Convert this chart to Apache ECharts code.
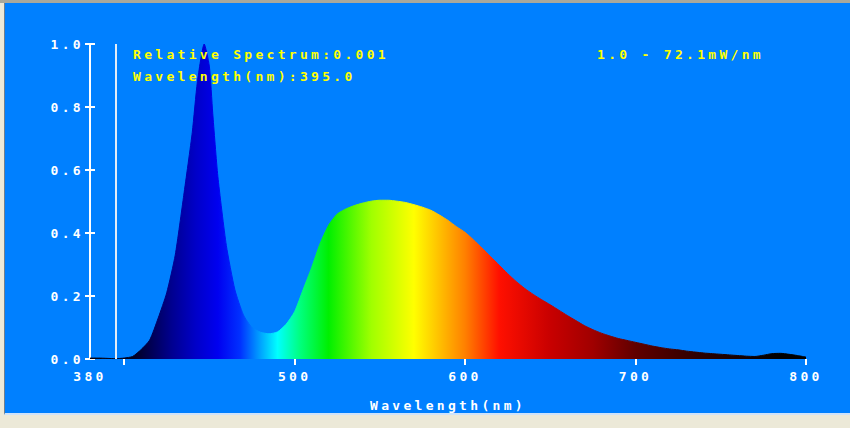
<!DOCTYPE html>
<html>
<head>
<meta charset="utf-8">
<script src="https://cdn.jsdelivr.net/npm/echarts@6/dist/echarts.min.js"></script>
<style>
  html, body { margin: 0; padding: 0; background: #ECE9D8; }
  body { width: 850px; height: 428px; position: relative; overflow: hidden; }
  .frame { position: absolute; left: 0; top: 0; width: 850px; height: 3px; background: #A8A89C; }
  #chart { position: absolute; left: 4px; top: 3px; width: 846px; height: 410px; background: #0080FF;
           border-left: 1px solid #6E7F8E; border-bottom: 2px solid #CFE3FA; }
  #chart text { letter-spacing: 3.3px; }
</style>
</head>
<body>
<div class="frame"></div>
<div id="chart"></div>
<script>
// wavelength (nm) and relative spectrum
const wavelengths = [380, 385, 390, 395, 400, 405, 410, 415, 420, 425, 430, 435, 440, 443, 447, 450, 452, 455, 460, 465,
  470, 475, 480, 485, 490, 495, 500, 505, 510, 515, 520, 525, 530, 535, 540, 545, 550, 555, 560, 565,
  570, 575, 580, 585, 590, 595, 600, 605, 610, 615, 620, 625, 630, 635, 640, 645, 650, 655, 660, 665,
  670, 675, 680, 685, 690, 695, 700, 705, 710, 715, 720, 725, 730, 735, 740, 745, 750, 755, 760, 765,
  770, 775, 780, 785, 790, 795, 800];
const relSpectrum = [0.003, 0.003, 0.002, 0.001, 0.003, 0.008, 0.03, 0.06, 0.13, 0.21, 0.33, 0.52, 0.72, 0.88, 1.0, 0.93, 0.78, 0.58, 0.36, 0.22,
  0.14, 0.1, 0.085, 0.08, 0.086, 0.11, 0.15, 0.22, 0.29, 0.367, 0.425, 0.46, 0.476, 0.487, 0.495, 0.501, 0.504, 0.504, 0.501, 0.497,
  0.49, 0.482, 0.472, 0.457, 0.44, 0.42, 0.402, 0.378, 0.352, 0.325, 0.298, 0.271, 0.246, 0.224, 0.205, 0.188, 0.172, 0.155, 0.138, 0.122,
  0.106, 0.093, 0.082, 0.073, 0.065, 0.059, 0.053, 0.047, 0.041, 0.036, 0.032, 0.029, 0.025, 0.022, 0.019, 0.017, 0.015, 0.013, 0.011, 0.009,
  0.008, 0.012, 0.017, 0.018, 0.015, 0.011, 0.006];

// colour of each wavelength for the fill
const colourWl = [380, 405, 415, 428, 442, 455, 468, 478, 490, 503, 520, 545, 570, 600, 620, 650, 675, 700, 740, 785, 800];
const colourHex = ['#000010', '#000020', '#000050', '#000090', '#0000C8', '#0000F0', '#0030FF', '#0090FF', '#00FFFF', '#00FF80',
  '#00F000', '#A0FF00', '#FFFF00', '#FF8000', '#FF1000', '#C80000', '#A00000', '#600000', '#2A0000', '#000000', '#000000'];

const xLabelValues = [380, 500, 600, 700, 800];
const xTickValues = [400, 500, 600, 700, 800];
const cursorWl = 395.0;
const cursorValue = 0.001;
const scaleText = '1.0 - 72.1mW/nm';

const textFont = { fontFamily: 'DejaVu Sans Mono', fontWeight: 'bold', fontSize: 13 };

const chart = echarts.init(document.getElementById('chart'), null, { renderer: 'svg' });

const wlMin = wavelengths[0];
const wlMax = wavelengths[wavelengths.length - 1];
const fill = new echarts.graphic.LinearGradient(0, 0, 1, 0,
  colourWl.map((w, i) => ({ offset: (w - wlMin) / (wlMax - wlMin), color: colourHex[i] })));

const option = {
  animation: false,
  title: [
    { text: 'Relative Spectrum:' + cursorValue.toFixed(3), left: 123, top: 40,
      textStyle: Object.assign({ color: '#FFFF00' }, textFont) },
    { text: 'Wavelength(nm):' + cursorWl.toFixed(1), left: 123, top: 62,
      textStyle: Object.assign({ color: '#FFFF00' }, textFont) },
    { text: scaleText, left: 587, top: 40,
      textStyle: Object.assign({ color: '#FFFF00' }, textFont) }
  ],
  grid: { left: 85, right: 45, top: 41, bottom: 54, outerBoundsMode: 'none' },
  xAxis: {
    type: 'value',
    min: wlMin,
    max: wlMax,
    name: 'Wavelength(nm)',
    nameLocation: 'middle',
    nameGap: 40,
    nameTextStyle: Object.assign({ color: '#FFFFFF' }, textFont),
    axisLine: { show: false },
    splitLine: { show: false },
    axisTick: { show: true, customValues: xTickValues, length: 6, lineStyle: { color: '#FFFFFF', width: 2 } },
    axisLabel: Object.assign({ customValues: xLabelValues, color: '#FFFFFF', margin: 11 }, textFont)
  },
  yAxis: [
    {
      type: 'value',
      min: 0,
      max: 1,
      interval: 0.2,
      splitLine: { show: false },
      axisLine: { show: true, lineStyle: { color: '#FFFFFF', width: 2 } },
      axisTick: { show: true, length: 5, lineStyle: { color: '#FFFFFF', width: 2 } },
      axisLabel: Object.assign({ color: '#FFFFFF', margin: 6, formatter: v => v.toFixed(1) }, textFont)
    },
    {
      type: 'value',
      position: 'left',
      min: 0,
      max: 1,
      interval: 0.2,
      splitLine: { show: false },
      axisLine: { show: false },
      axisTick: { show: true, inside: true, length: 5, lineStyle: { color: '#FFFFFF', width: 2 } },
      axisLabel: { show: false }
    }
  ],
  series: [
    {
      type: 'line',
      data: wavelengths.map((w, i) => [w, relSpectrum[i]]),
      showSymbol: false,
      smooth: 0.2,
      lineStyle: { color: fill, width: 1 },
      areaStyle: { color: fill, opacity: 1 },
      markLine: {
        silent: true,
        symbol: 'none',
        label: { show: false },
        lineStyle: { color: '#E4ECF6', width: 2, type: 'solid' },
        data: [{ xAxis: cursorWl }]
      }
    }
  ]
};

chart.setOption(option);
</script>
</body>
</html>
